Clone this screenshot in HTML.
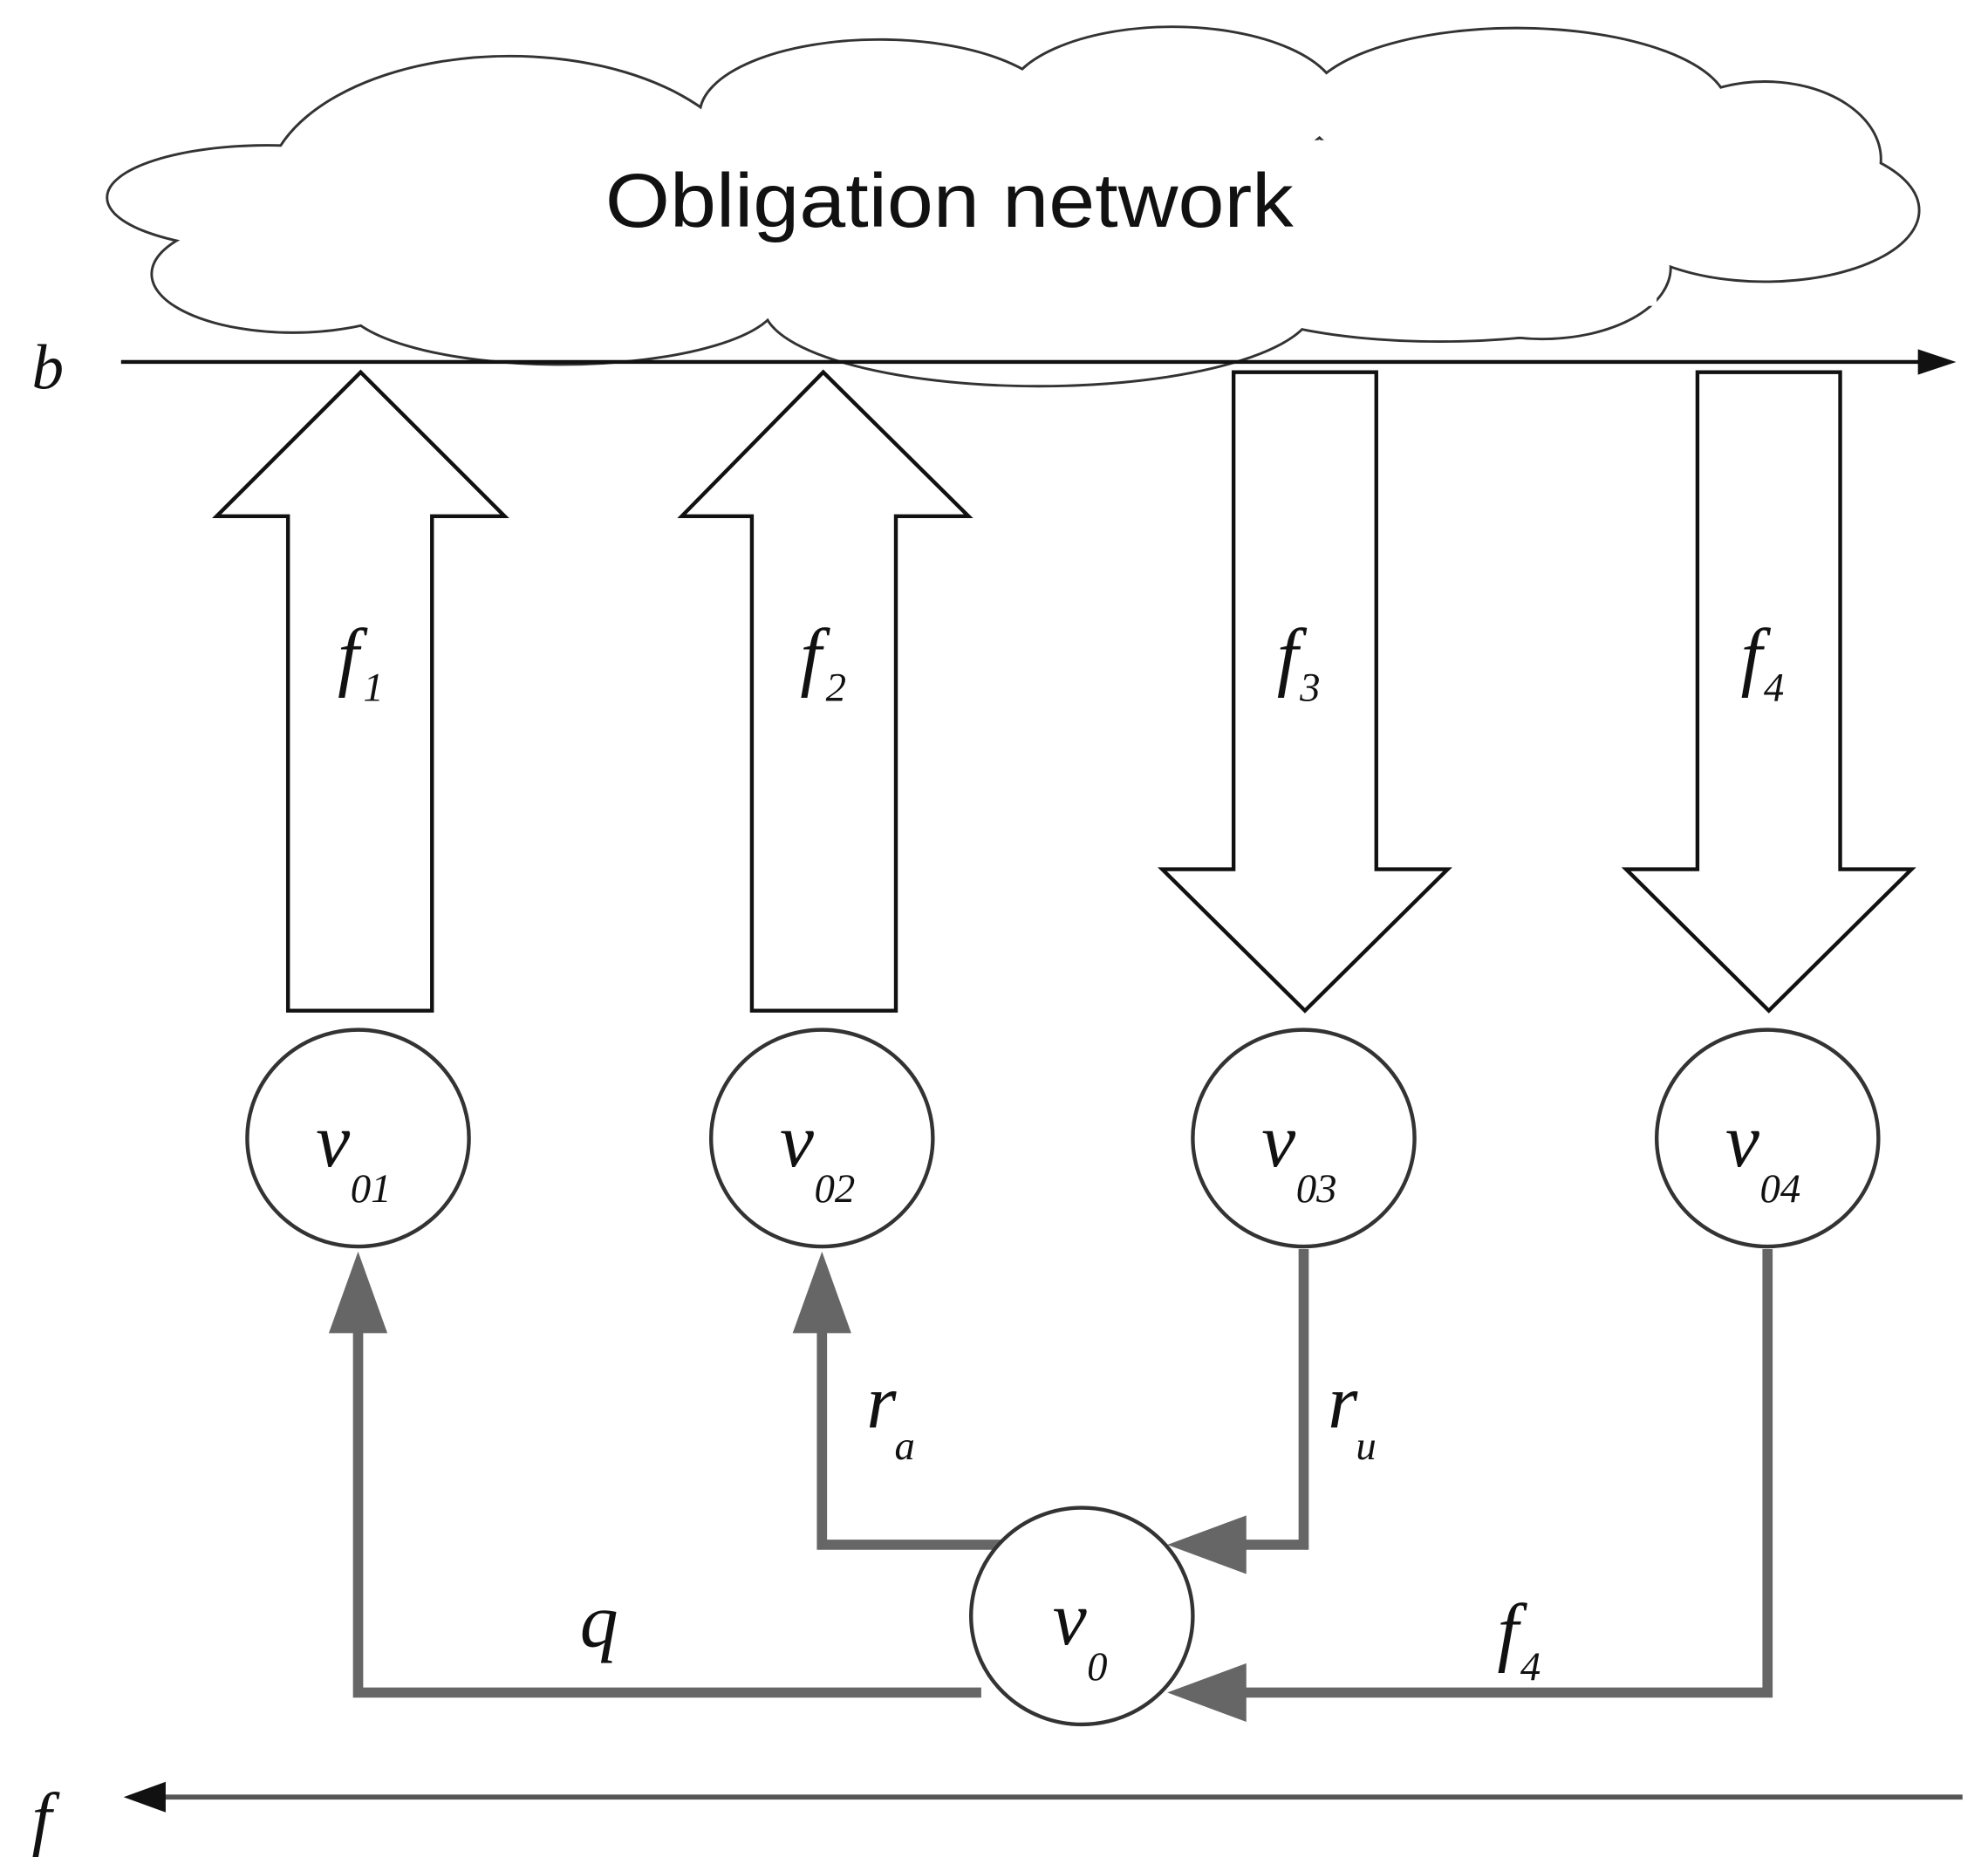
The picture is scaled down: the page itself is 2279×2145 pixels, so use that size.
<!DOCTYPE html>
<html><head><meta charset="utf-8"><style>html,body{margin:0;padding:0;background:#fff}svg{display:block}</style></head>
<body>
<svg width="2279" height="2145" viewBox="0 0 1560 1468" preserveAspectRatio="none" xmlns="http://www.w3.org/2000/svg">
<g stroke="#333" stroke-width="4" fill="#fff">
<ellipse cx="210" cy="155" rx="125" ry="40"/>
<ellipse cx="400" cy="150" rx="190" ry="105"/>
<ellipse cx="690" cy="90" rx="140" ry="58"/>
<ellipse cx="920" cy="80" rx="130" ry="58"/>
<ellipse cx="1190" cy="85" rx="165" ry="62"/>
<ellipse cx="1385" cy="125" rx="90" ry="60"/>
<ellipse cx="1385" cy="165" rx="120" ry="55"/>
<ellipse cx="1210" cy="210" rx="100" ry="55"/>
<ellipse cx="230" cy="215" rx="110" ry="45"/>
<ellipse cx="440" cy="235" rx="170" ry="50"/>
<ellipse cx="815" cy="240" rx="215" ry="62"/>
<ellipse cx="1130" cy="225" rx="170" ry="42"/>
</g>
<g fill="#fff" stroke="none">
<ellipse cx="210" cy="155" rx="125" ry="40"/>
<ellipse cx="400" cy="150" rx="190" ry="105"/>
<ellipse cx="690" cy="90" rx="140" ry="58"/>
<ellipse cx="920" cy="80" rx="130" ry="58"/>
<ellipse cx="1190" cy="85" rx="165" ry="62"/>
<ellipse cx="1385" cy="125" rx="90" ry="60"/>
<ellipse cx="1385" cy="165" rx="120" ry="55"/>
<ellipse cx="1210" cy="210" rx="100" ry="55"/>
<ellipse cx="230" cy="215" rx="110" ry="45"/>
<ellipse cx="440" cy="235" rx="170" ry="50"/>
<ellipse cx="815" cy="240" rx="215" ry="62"/>
<ellipse cx="1130" cy="225" rx="170" ry="42"/>
<rect x="300" y="110" width="1000" height="130"/>
</g>
<text x="475" y="178" font-family="Liberation Sans, sans-serif" font-size="60" textLength="540" lengthAdjust="spacingAndGlyphs" fill="#111">Obligation network</text>

<g font-family="Liberation Serif, serif" font-style="italic" fill="#111">
<text x="25" y="305" font-size="50">b</text>
<text x="25" y="1445" font-size="56">f</text>
</g>
<line x1="95" y1="284" x2="1510" y2="284" stroke="#111" stroke-width="3"/>
<polygon points="1535,284 1505,274 1505,294" fill="#111"/>

<g fill="#fff" stroke="#111" stroke-width="3">
<polygon points="226,793 226,405 170,405 283,292 396,405 339,405 339,793"/>
<polygon points="590,793 590,405 535,405 646,292 760,405 703,405 703,793"/>
<polygon points="968,292 968,682 912,682 1024,793 1136,682 1080,682 1080,292"/>
<polygon points="1332,292 1332,682 1276,682 1388,793 1500,682 1444,682 1444,292"/>
</g>

<g font-family="Liberation Serif, serif" font-style="italic" fill="#111">
<text x="265" y="535" font-size="60">f</text><text x="285" y="550" font-size="32">1</text>
<text x="628" y="535" font-size="60">f</text><text x="648" y="550" font-size="32">2</text>
<text x="1002" y="535" font-size="60">f</text><text x="1020" y="550" font-size="32">3</text>
<text x="1366" y="535" font-size="60">f</text><text x="1384" y="550" font-size="32">4</text>
</g>

<g stroke="#666" stroke-width="8" fill="none">
<polyline points="281,1040 281,1328 770,1328"/>
<polyline points="645,1040 645,1212 795,1212"/>
<polyline points="1023,980 1023,1212 975,1212"/>
<polyline points="1387,980 1387,1328 975,1328"/>
</g>
<g fill="#666">
<polygon points="281,982 258,1046 304,1046"/>
<polygon points="645,982 622,1046 668,1046"/>
<polygon points="916,1212 978,1189 978,1235"/>
<polygon points="916,1328 978,1305 978,1351"/>
</g>

<g fill="#fff" stroke="#333" stroke-width="3">
<ellipse cx="281" cy="893" rx="87" ry="85"/>
<ellipse cx="645" cy="893" rx="87" ry="85"/>
<ellipse cx="1023" cy="893" rx="87" ry="85"/>
<ellipse cx="1387" cy="893" rx="87" ry="85"/>
<ellipse cx="849" cy="1268" rx="87" ry="85"/>
</g>

<g font-family="Liberation Serif, serif" font-style="italic" fill="#111">
<text x="248" y="915" font-size="60">v</text><text x="275" y="943" font-size="32">01</text>
<text x="612" y="915" font-size="60">v</text><text x="639" y="943" font-size="32">02</text>
<text x="990" y="915" font-size="60">v</text><text x="1017" y="943" font-size="32">03</text>
<text x="1354" y="915" font-size="60">v</text><text x="1381" y="943" font-size="32">04</text>
<text x="826" y="1290" font-size="60">v</text><text x="853" y="1318" font-size="32">0</text>
<text x="680" y="1120" font-size="60">r</text><text x="702" y="1145" font-size="32">a</text>
<text x="1042" y="1120" font-size="60">r</text><text x="1064" y="1145" font-size="32">u</text>
<text x="455" y="1292" font-size="60">q</text>
<text x="1175" y="1300" font-size="60">f</text><text x="1193" y="1318" font-size="32">4</text>
</g>

<line x1="1540" y1="1410" x2="125" y2="1410" stroke="#555" stroke-width="4"/>
<polygon points="97,1410 130,1398 130,1422" fill="#111"/>
</svg>
</body></html>
